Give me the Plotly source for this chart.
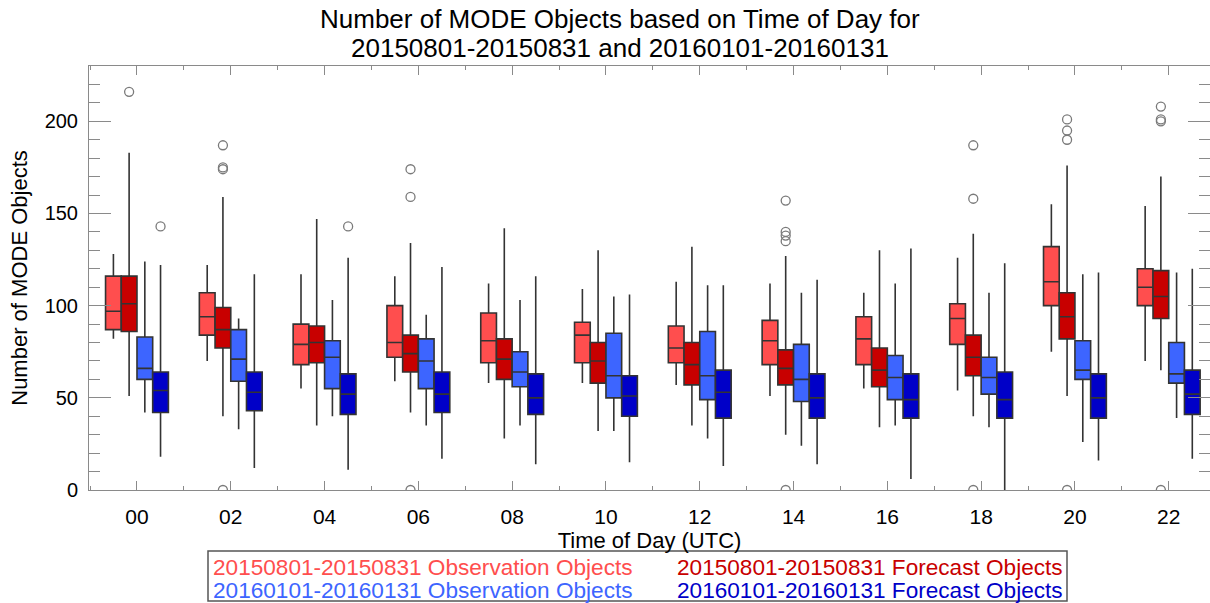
import plotly.graph_objects as go

# ---------------- data ----------------
hours = [0, 2, 4, 6, 8, 10, 12, 14, 16, 18, 20, 22]
hour_labels = ["00", "02", "04", "06", "08", "10", "12", "14", "16", "18", "20", "22"]

name_obs15 = "20150801-20150831 Observation Objects"
name_fc15 = "20150801-20150831 Forecast Objects"
name_obs16 = "20160101-20160131 Observation Objects"
name_fc16 = "20160101-20160131 Forecast Objects"

obs15_upper = [128, 122, 117, 116, 112, 109, 113, 112, 107, 126, 155, 154]
obs15_q3 = [116, 107, 90, 100, 96, 91, 89, 92, 94, 101, 132, 120]
obs15_median = [97, 94, 79, 80, 81, 84, 77, 81, 82, 93, 113, 110]
obs15_q1 = [87, 84, 68, 72, 69, 69, 69, 68, 68, 79, 100, 100]
obs15_lower = [82, 70, 55, 59, 58, 58, 57, 51, 55, 54, 75, 70]
obs15_outliers = None

fc15_upper = [183, 159, 147, 134, 142, 130, 132, 127, 130, 139, 176, 170]
fc15_q3 = [116, 99, 89, 84, 82, 80, 80, 76, 77, 84, 107, 119]
fc15_median = [101, 87, 80, 74, 71, 70, 68, 66, 65, 72, 94, 105]
fc15_q1 = [86, 77, 69, 64, 60, 58, 57, 57, 56, 62, 82, 93]
fc15_lower = [51, 40, 35, 42, 28, 32, 35, 30, 34, 40, 51, 65]
fc15_outliers = [[216], [187, 175, 174, 0], [], [174, 159, 0], [], [], [],
                 [157, 140, 138, 135, 0], [], [187, 158, 0], [201, 195, 190, 0],
                 [208, 201, 200, 0]]

obs16_upper = [124, 93, 103, 95, 103, 105, 111, 107, 112, 107, 117, 118]
obs16_q3 = [83, 87, 81, 82, 75, 85, 86, 79, 73, 72, 81, 80]
obs16_median = [66, 71, 72, 70, 64, 62, 62, 60, 61, 61, 65, 63]
obs16_q1 = [60, 59, 55, 55, 56, 50, 49, 48, 49, 52, 60, 58]
obs16_lower = [42, 33, 40, 35, 35, 32, 28, 24, 35, 34, 26, 39]
obs16_outliers = None

fc16_upper = [122, 117, 126, 121, 116, 106, 111, 114, 131, 123, 118, 120]
fc16_q3 = [64, 64, 63, 64, 63, 62, 65, 63, 63, 64, 63, 65]
fc16_median = [54, 53, 52, 52, 50, 51, 53, 50, 49, 49, 50, 52]
fc16_q1 = [42, 43, 41, 42, 41, 40, 39, 39, 39, 39, 39, 41]
fc16_lower = [18, 12, 11, 17, 14, 15, 13, 14, 6, 0, 16, 17]
fc16_outliers = [[143], [], [143], [], [], [], [], [], [], [], [], []]

# ---------------- styling ----------------
col_obs15 = "#FF4E4E"
col_fc15 = "#C80000"
col_obs16 = "#3D65FF"
col_fc16 = "#0000C8"
FONT = "Liberation Sans, Arial, sans-serif"

series = [
    (name_obs15, col_obs15, obs15_lower, obs15_q1, obs15_median, obs15_q3, obs15_upper, obs15_outliers),
    (name_fc15, col_fc15, fc15_lower, fc15_q1, fc15_median, fc15_q3, fc15_upper, fc15_outliers),
    (name_obs16, col_obs16, obs16_lower, obs16_q1, obs16_median, obs16_q3, obs16_upper, obs16_outliers),
    (name_fc16, col_fc16, fc16_lower, fc16_q1, fc16_median, fc16_q3, fc16_upper, fc16_outliers),
]

fig = go.Figure()
for name, col, lo, q1, med, q3, up, outl in series:
    kw = {}
    if outl is not None:
        kw["y"] = outl
    fig.add_trace(go.Box(
        name=name,
        x=hours,
        q1=q1, median=med, q3=q3,
        lowerfence=lo, upperfence=up,
        fillcolor=col,
        line=dict(color="#333333", width=1.6),
        whiskerwidth=0,
        boxpoints="outliers",
        jitter=0,
        pointpos=0,
        marker=dict(symbol="circle-open", size=9, color="#7a7a7a",
                    line=dict(width=1.3, color="#7a7a7a")),
        showlegend=False,
        hoverinfo="skip",
        **kw,
    ))

FIG_W, FIG_H = 1210, 603
# plot area in pixels
L, T, W, H = 89, 66, 1121, 424


def px_x(px):
    return (px - L) / W


def px_y(py):
    return (T + H - py) / H


axis_col = "#8a8a8a"

fig.update_layout(
    width=FIG_W, height=FIG_H,
    margin=dict(l=L, r=FIG_W - L - W, t=T, b=FIG_H - T - H, pad=0),
    paper_bgcolor="white", plot_bgcolor="white",
    boxmode="group", boxgap=0.33, boxgroupgap=0,
    font=dict(family=FONT, color="black"),
    xaxis=dict(
        range=[-1.023, 22.88],
        tickvals=hours, ticktext=hour_labels,
        ticks="inside", ticklen=9, tickcolor=axis_col, tickwidth=1,
        minor=dict(dtick=1, tick0=1, ticks="inside", ticklen=4, tickcolor=axis_col),
        showline=True, linecolor=axis_col, linewidth=1, mirror="ticks",
        showgrid=False, zeroline=False,
        tickfont=dict(size=21, family=FONT, color="black"),
        ticklabelstandoff=8,
        title=dict(text="Time of Day (UTC)", font=dict(size=22, family=FONT, color="black"), standoff=3),
    ),
    yaxis=dict(
        range=[0, 230],
        tickvals=[0, 50, 100, 150, 200],
        ticks="inside", ticklen=22, tickcolor=axis_col, tickwidth=1,
        minor=dict(dtick=10, tick0=0, ticks="inside", ticklen=11, tickcolor=axis_col),
        showline=True, linecolor=axis_col, linewidth=1, mirror="ticks",
        showgrid=False, zeroline=False,
        tickfont=dict(size=20, family=FONT, color="black"),
        ticklabelstandoff=6,
        title=dict(text="Number of MODE Objects", font=dict(size=22, family=FONT, color="black"), standoff=10),
    ),
)

# title (two lines)
title_lines = ["Number of MODE Objects based on Time of Day for",
               "20150801-20150831 and 20160101-20160131"]
for txt, py in zip(title_lines, [19, 48]):
    fig.add_annotation(text=txt, xref="paper", yref="paper",
                       x=px_x(619.5), y=px_y(py), xanchor="center", yanchor="middle",
                       showarrow=False, font=dict(size=26, family=FONT, color="black"))

# legend box with coloured text
fig.add_shape(type="rect", xref="paper", yref="paper",
              x0=px_x(208), x1=px_x(1067), y0=px_y(601), y1=px_y(551),
              line=dict(color="#555555", width=1.5), fillcolor="white", layer="above")
legend_items = [
    (name_obs15, col_obs15, 211, 567),
    (name_fc15, col_fc15, 675, 567),
    (name_obs16, col_obs16, 211, 590),
    (name_fc16, col_fc16, 675, 590),
]
for txt, col, px, py in legend_items:
    fig.add_annotation(text=txt, xref="paper", yref="paper",
                       x=px_x(px), y=px_y(py), xanchor="left", yanchor="middle",
                       showarrow=False, font=dict(size=22.6, family=FONT, color=col))

# remove the default 8px page margin so the figure fills the window exactly
fig.write_html("out.html",
               config={"displayModeBar": False},
               post_script="document.body.style.margin='0px';document.body.style.overflow='hidden';")
